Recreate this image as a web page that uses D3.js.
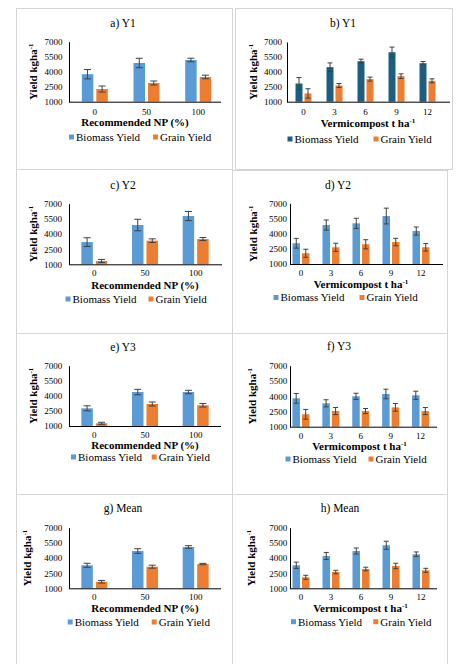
<!DOCTYPE html>
<html>
<head>
<meta charset="utf-8">
<script src="https://cdn.jsdelivr.net/npm/d3@7"></script>
<style>
    body { margin: 0; background: #fff; }
    svg, svg text, svg tspan { font-family: "Liberation Serif", "DejaVu Serif", serif !important; }
    svg text { fill: #000; }
</style>
</head>
<body>
<div class="fig"></div>
<script>
// categories
var npLevels = ["0", "50", "100"];
var vcLevels = ["0", "3", "6", "9", "12"];
var yTicks = [1000, 2500, 4000, 5500, 7000];
var seriesNames = ["Biomass Yield", "Grain Yield"];

// a) Y1, recommended NP
var y1NpBiomass = [3750, 4870, 5170];
var y1NpBiomassErr = [470, 470, 180];
var y1NpGrain = [2270, 2870, 3470];
var y1NpGrainErr = [300, 200, 180];

// b) Y1, vermicompost
var y1VcBiomass = [2830, 4470, 5070, 5970, 4870];
var y1VcBiomassErr = [600, 430, 200, 520, 170];
var y1VcGrain = [1830, 2630, 3270, 3570, 3100];
var y1VcGrainErr = [470, 200, 200, 230, 200];

// c) Y2, recommended NP
var y2NpBiomass = [3200, 4890, 5780];
var y2NpBiomassErr = [430, 570, 450];
var y2NpGrain = [1330, 3340, 3500];
var y2NpGrainErr = [150, 180, 150];

// d) Y2, vermicompost
var y2VcBiomass = [3050, 4850, 5020, 5740, 4260];
var y2VcBiomassErr = [480, 500, 500, 780, 400];
var y2VcGrain = [2060, 2650, 2950, 3170, 2650];
var y2VcGrainErr = [400, 400, 450, 370, 370];

// e) Y3, recommended NP
var y3NpBiomass = [2760, 4380, 4380];
var y3NpBiomassErr = [250, 270, 170];
var y3NpGrain = [1270, 3190, 3060];
var y3NpGrainErr = [100, 200, 170];

// f) Y3, vermicompost
var y3VcBiomass = [3790, 3300, 3990, 4220, 4090];
var y3VcBiomassErr = [480, 350, 300, 470, 400];
var y3VcGrain = [2220, 2540, 2540, 2900, 2540];
var y3VcGrainErr = [480, 350, 250, 380, 350];

// g) Mean, recommended NP
var meanNpBiomass = [3280, 4690, 5090];
var meanNpBiomassErr = [200, 230, 130];
var meanNpGrain = [1650, 3140, 3400];
var meanNpGrainErr = [130, 150, 70];

// h) Mean, vermicompost
var meanVcBiomass = [3280, 4200, 4690, 5260, 4370];
var meanVcBiomassErr = [310, 350, 300, 400, 230];
var meanVcGrain = [2090, 2610, 2910, 3210, 2780];
var meanVcGrainErr = [200, 170, 180, 270, 200];

var lightBlue = "#5b9bd5";
var darkBlue = "#1d5e80";
var orange = "#ed7d31";
var serif = "Liberation Serif, DejaVu Serif, serif";

var svg = d3.select(".fig")
    .append("svg")
    .attr("width", 467)
    .attr("height", 664)
    .attr("font-family", serif);

var panels = [
    { title: "a) Y1", frame: [16, 8, 232, 169], cats: npLevels, bio: y1NpBiomass, bioErr: y1NpBiomassErr, grain: y1NpGrain, grainErr: y1NpGrainErr,
      axisX: 69, axisEnd: 221, band: [69, 224], yTop: 41.7, yBot: 101.7, labelEnd: 62.5, titleX: 123, titleY: 23,
      tickY: 111.5, xTitle: "np", xTitleX: 135, xTitleY: 122.5, yTitleX: 33, legY: 137, legX: [69, 153], barW: 11.5, gap: 3, bioColor: lightBlue },
    { title: "b) Y1", frame: [235, 8, 452, 169], cats: vcLevels, bio: y1VcBiomass, bioErr: y1VcBiomassErr, grain: y1VcGrain, grainErr: y1VcGrainErr,
      axisX: 287, axisEnd: 450, band: [288, 443], yTop: 42, yBot: 101.7, labelEnd: 282, titleX: 343, titleY: 23,
      tickY: 111.5, xTitle: "vc", xTitleX: 368, xTitleY: 123.5, yTitleX: 253, legY: 139, legX: [287.5, 373.5], barW: 7, gap: 2, bioColor: darkBlue },
    { title: "c) Y2", frame: [16, 169, 232, 333], cats: npLevels, bio: y2NpBiomass, bioErr: y2NpBiomassErr, grain: y2NpGrain, grainErr: y2NpGrainErr,
      axisX: 69, axisEnd: 222, band: [69, 221], yTop: 203.7, yBot: 264.3, labelEnd: 62, titleX: 123, titleY: 185,
      tickY: 272.5, xTitle: "np", xTitleX: 145, xTitleY: 285.5, yTitleX: 33, legY: 299, legX: [65.5, 148.5], barW: 11.5, gap: 3, bioColor: lightBlue },
    { title: "d) Y2", frame: [232, 170, 447, 333], cats: vcLevels, bio: y2VcBiomass, bioErr: y2VcBiomassErr, grain: y2VcGrain, grainErr: y2VcGrainErr,
      axisX: 290, axisEnd: 443, band: [286, 436], yTop: 203.3, yBot: 264, labelEnd: 287, titleX: 338, titleY: 185,
      tickY: 272.5, xTitle: "vc", xTitleX: 361, xTitleY: 284.5, yTitleX: 252.7, legY: 297.5, legX: [273.5, 359.5], barW: 7.5, gap: 2, bioColor: lightBlue },
    { title: "e) Y3", frame: [16, 333, 232, 494], cats: npLevels, bio: y3NpBiomass, bioErr: y3NpBiomassErr, grain: y3NpGrain, grainErr: y3NpGrainErr,
      axisX: 69, axisEnd: 221, band: [69, 221], yTop: 365.7, yBot: 426, labelEnd: 62.3, titleX: 123, titleY: 346.7,
      tickY: 435, xTitle: "np", xTitleX: 145, xTitleY: 445.5, yTitleX: 33, legY: 457, legX: [71, 151.7], barW: 11.5, gap: 3, bioColor: lightBlue },
    { title: "f) Y3", frame: [232, 333, 447, 494], cats: vcLevels, bio: y3VcBiomass, bioErr: y3VcBiomassErr, grain: y3VcGrain, grainErr: y3VcGrainErr,
      axisX: 290, axisEnd: 437, band: [286, 435.5], yTop: 365.7, yBot: 426.7, labelEnd: 287.3, titleX: 339, titleY: 346,
      tickY: 435.5, xTitle: "vc", xTitleX: 359.5, xTitleY: 446.5, yTitleX: 251.7, legY: 459, legX: [285.5, 368.5], barW: 7.5, gap: 2, bioColor: lightBlue },
    { title: "g) Mean", frame: [16, 494, 232, 670], cats: npLevels, bio: meanNpBiomass, bioErr: meanNpBiomassErr, grain: meanNpGrain, grainErr: meanNpGrainErr,
      axisX: 69, axisEnd: 221, band: [69, 221], yTop: 527.7, yBot: 588.3, labelEnd: 62.3, titleX: 123, titleY: 507.7,
      tickY: 597, xTitle: "np", xTitleX: 145, xTitleY: 608, yTitleX: 26.7, legY: 622, legX: [67.7, 151.7], barW: 11.5, gap: 3, bioColor: lightBlue },
    { title: "h) Mean", frame: [232, 494, 447, 670], cats: vcLevels, bio: meanVcBiomass, bioErr: meanVcBiomassErr, grain: meanVcGrain, grainErr: meanVcGrainErr,
      axisX: 290, axisEnd: 437, band: [286, 436], yTop: 527.7, yBot: 588.3, labelEnd: 287.3, titleX: 340, titleY: 507.7,
      tickY: 597, xTitle: "vc", xTitleX: 360.5, xTitleY: 608, yTitleX: 250.7, legY: 621.7, legX: [291, 373.3], barW: 7.5, gap: 2, bioColor: lightBlue }
];

// text with a "-1" superscript at the end
const supText = (sel, main, sup) => {
    sel.append("tspan").text(main);
    sel.append("tspan").attr("font-size", "7px").attr("dy", "-4").text(sup);
};

const drawPanel = (p) => {
    var g = svg.append("g");
    var f = p.frame;

    g.append("rect")
        .attr("x", f[0] + 0.5)
        .attr("y", f[1] + 0.5)
        .attr("width", f[2] - f[0])
        .attr("height", f[3] - f[1])
        .attr("fill", "none")
        .attr("stroke", "#d4d4d4")
        .attr("stroke-width", 1);

    var y = d3.scaleLinear().domain([1000, 7000]).range([p.yBot, p.yTop]);
    var x = d3.scaleBand().domain(p.cats).range(p.band);
    var sub = d3.scaleOrdinal().domain(seriesNames)
        .range([-(p.gap / 2 + p.barW), p.gap / 2]);

    var rows = [];
    p.cats.forEach((c, i) => {
        rows.push({ cat: c, s: seriesNames[0], v: p.bio[i], e: p.bioErr[i], color: p.bioColor });
        rows.push({ cat: c, s: seriesNames[1], v: p.grain[i], e: p.grainErr[i], color: orange });
    });
    var cx = (d) => x(d.cat) + x.bandwidth() / 2 + sub(d.s);

    g.selectAll("rect.bar")
        .data(rows)
        .enter()
        .append("rect")
        .attr("class", "bar")
        .attr("x", cx)
        .attr("y", (d) => y(d.v))
        .attr("width", p.barW)
        .attr("height", (d) => y(1000) - y(d.v))
        .attr("fill", (d) => d.color);

    // error bars
    var cap = p.barW > 10 ? 7 : 5;
    var eb = g.selectAll("g.err").data(rows).enter().append("g")
        .attr("stroke", "#404040").attr("stroke-width", 1);
    eb.append("line")
        .attr("x1", (d) => cx(d) + p.barW / 2).attr("x2", (d) => cx(d) + p.barW / 2)
        .attr("y1", (d) => y(d.v - d.e)).attr("y2", (d) => y(d.v + d.e));
    [-1, 1].forEach((k) => {
        eb.append("line")
            .attr("x1", (d) => cx(d) + p.barW / 2 - cap / 2)
            .attr("x2", (d) => cx(d) + p.barW / 2 + cap / 2)
            .attr("y1", (d) => y(d.v + k * d.e)).attr("y2", (d) => y(d.v + k * d.e));
    });

    // y axis
    var ya = g.append("g")
        .attr("transform", `translate(${p.axisX},0)`)
        .call(d3.axisLeft(y).tickValues(yTicks).tickFormat(d3.format("d"))
            .tickSize(0).tickSizeOuter(0).tickPadding(p.axisX - p.labelEnd));
    ya.attr("font-family", serif);
    ya.select(".domain").attr("stroke", "#000");
    ya.selectAll("text").attr("font-size", "9px");

    // x axis
    g.append("line")
        .attr("x1", p.axisX).attr("x2", p.axisEnd)
        .attr("y1", p.yBot + 0.5).attr("y2", p.yBot + 0.5)
        .attr("stroke", "#000");
    g.selectAll("text.xt")
        .data(p.cats)
        .enter()
        .append("text")
        .attr("class", "xt")
        .attr("x", (d) => x(d) + x.bandwidth() / 2)
        .attr("y", p.tickY)
        .attr("dy", "0.35em")
        .attr("text-anchor", "middle")
        .attr("font-size", "9px")
        .text((d) => d);

    // titles
    g.append("text")
        .attr("x", p.titleX).attr("y", p.titleY).attr("dy", "0.35em")
        .attr("text-anchor", "middle").attr("font-size", "11.5px")
        .text(p.title);

    var xt = g.append("text")
        .attr("x", p.xTitleX).attr("y", p.xTitleY).attr("dy", "0.35em")
        .attr("text-anchor", "middle").attr("font-size", "11px").attr("font-weight", "bold");
    if (p.xTitle === "np") xt.text("Recommended NP (%)");
    else supText(xt, "Vermicompost t ha", "-1");

    var yt = g.append("text")
        .attr("transform", `translate(${p.yTitleX},${(p.yTop + p.yBot) / 2}) rotate(-90)`)
        .attr("dy", "0.35em")
        .attr("text-anchor", "middle").attr("font-size", "11px").attr("font-weight", "bold");
    supText(yt, "Yield kgha", "-1");

    // legend
    var colors = [p.bioColor, orange];
    seriesNames.forEach((s, i) => {
        g.append("rect")
            .attr("x", p.legX[i]).attr("y", p.legY - 2.5)
            .attr("width", 5).attr("height", 5)
            .attr("fill", colors[i]);
        g.append("text")
            .attr("x", p.legX[i] + 7).attr("y", p.legY).attr("dy", "0.35em")
            .attr("font-size", "11px")
            .text(s);
    });
};

panels.forEach(drawPanel);
</script>
</body>
</html>
